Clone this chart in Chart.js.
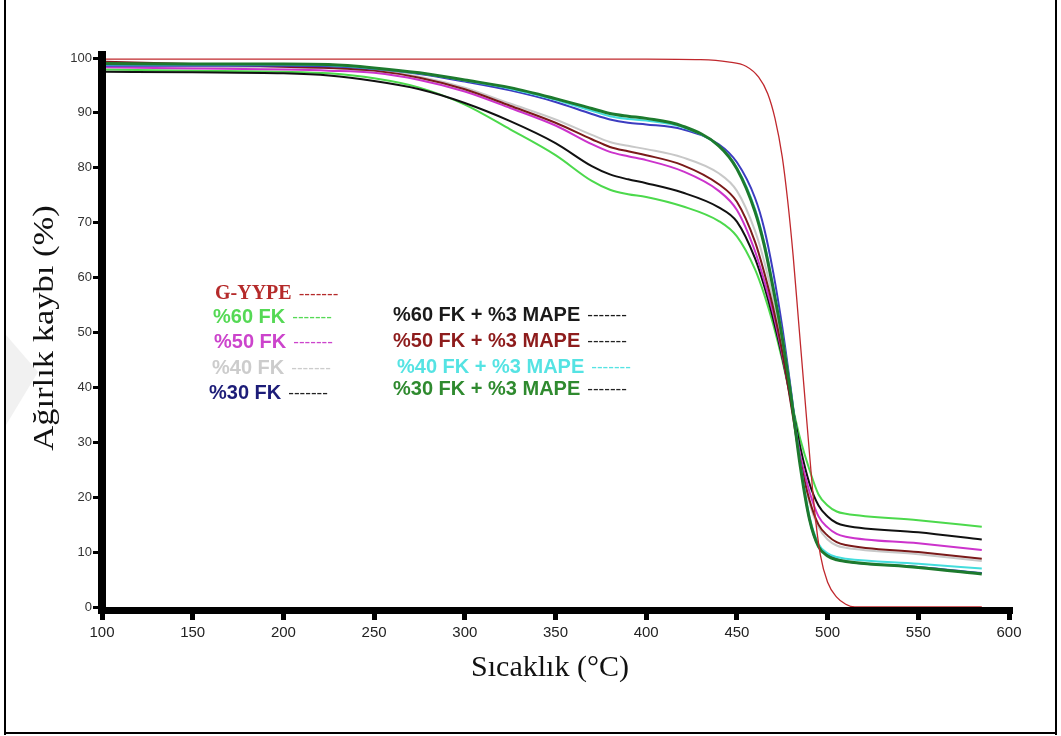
<!DOCTYPE html>
<html><head><meta charset="utf-8">
<script src="https://cdn.jsdelivr.net/npm/chart.js@4.4.1/dist/chart.umd.min.js"></script>
<style>html,body{margin:0;padding:0;background:#fff;overflow:hidden}canvas{display:block}</style>
</head><body>
<canvas id="c" width="1061" height="736"></canvas>
<script>
// ---- data ----
const xTickValues = [100,150,200,250,300,350,400,450,500,550,600];
const yTickValues = [0,10,20,30,40,50,60,70,80,90,100];
const xTitle = 'Sıcaklık (°C)';
const yTitle = 'Ağırlık kaybı (%)';
const seriesNames = ['G-YYPE','%60 FK','%50 FK','%40 FK','%30 FK',
  '%60 FK + %3 MAPE','%50 FK + %3 MAPE','%40 FK + %3 MAPE','%30 FK + %3 MAPE'];

const tempsGYYPE = [102,200,300,400,430,445,455,462,467,471,475,478,481,484,487,490,493,496,500,505,510,515,550,585];
const gyype      = [99.8,99.8,99.8,99.8,99.7,99.3,98.5,96.5,93.5,89,82,74,64,52,40,28,17,9.5,4.5,1.8,0.5,0,0,0];

const temps = [102,150,200,225,250,275,300,325,350,370,380,390,400,420,440,450,460,465,470,475,480,485,490,495,500,505,510,550,585];
const fk60   = [97.9,97.7,97.5,97.2,96.3,94.6,91.5,87.0,82.3,77.6,76.0,75.2,74.7,73.0,70.3,67.5,61.5,57.0,51.5,45.0,37.5,30.5,25.0,20.5,18.5,17.4,17.0,15.8,14.6];
const fk50   = [98.3,98.1,97.9,97.7,97.3,96.0,93.9,90.9,87.7,84.3,82.9,82.1,81.4,79.4,75.8,72.3,64.8,59.5,53.5,46.0,37.0,27.5,21.0,16.5,14.5,13.3,12.8,11.6,10.4];
const fk40   = [98.5,98.4,98.3,98.2,97.8,96.6,94.6,91.7,88.8,86.0,84.7,84.0,83.4,81.9,79.0,75.8,68.5,63.0,56.0,47.5,37.0,26.5,19.0,14.5,12.3,11.2,10.8,9.6,8.4];
const fk30   = [98.6,98.6,98.6,98.5,98.0,97.1,95.7,94.1,92.0,89.8,88.8,88.2,87.9,87.0,84.3,81.0,74.5,69.0,61.0,51.0,39.0,26.0,16.0,11.0,9.5,8.7,8.3,7.3,6.2];
const fk60m  = [97.5,97.4,97.2,96.8,95.8,94.3,91.8,88.5,84.5,80.3,78.8,77.9,77.2,75.5,72.8,70.2,63.5,58.5,52.5,45.5,37.5,29.0,22.5,18.5,16.5,15.3,14.8,13.6,12.3];
const fk50m  = [99.3,98.9,98.4,98.2,97.7,96.4,94.3,91.3,88.2,85.2,83.8,83.0,82.3,80.5,77.0,73.8,66.5,61.0,54.5,46.5,36.5,26.5,19.5,15.0,13.0,11.8,11.3,10.0,8.8];
const fk40m  = [98.8,98.8,98.8,98.7,98.1,97.2,95.9,94.4,92.4,90.4,89.4,88.9,88.6,87.4,84.0,80.0,72.5,66.5,58.5,49.5,38.5,26.0,16.5,11.5,9.8,9.1,8.8,7.9,7.0];
const fk30m  = [99.0,98.9,98.9,98.8,98.2,97.3,96.0,94.6,92.6,90.8,89.9,89.4,89.0,87.6,84.0,79.8,72.0,66.0,58.0,49.0,38.0,25.5,16.0,11.0,9.3,8.6,8.3,7.2,6.0];

// ---- build ----
const pts = (xs, ys) => xs.map((x, i) => ({x, y: ys[i]}));
const seriesData = [pts(tempsGYYPE, gyype), pts(temps, fk60), pts(temps, fk50), pts(temps, fk40), pts(temps, fk30),
  pts(temps, fk60m), pts(temps, fk50m), pts(temps, fk40m), pts(temps, fk30m)];
const lineColors = ['#c0282d','#4cd94c','#cc33cc','#c8c8c8','#3c3cc0','#111111','#7a1a1a','#44dddd','#1d7a2d'];
const lineWidths = [1.3,2,2,2,2,2,2,2,3];
const drawOrder  = [1,8,6,9,4,7,5,3,2];

const legendLayout = [
  {x:215,y:294,font:'bold 20px "Liberation Serif", "Times New Roman", serif',c:'#b52a2a',d:'#b52a2a'},
  {x:213,y:317,c:'#55d955',d:'#55d955'},
  {x:214,y:342,c:'#cc44cc',d:'#cc44cc'},
  {x:212,y:368,c:'#cccccc',d:'#cccccc'},
  {x:209,y:393,c:'#1c1c78',d:'#222222'},
  {x:393,y:315,c:'#1a1a1a',d:'#1a1a1a'},
  {x:393,y:341,c:'#8e1c1c',d:'#222222'},
  {x:397,y:367,c:'#55e3e3',d:'#55e3e3'},
  {x:393,y:389,c:'#2f8a2f',d:'#222222'}
];

const framePlugin = {
  id:'frame',
  beforeDraw(chart){
    const ctx = chart.ctx;
    ctx.save();
    ctx.fillStyle = '#fff';
    ctx.fillRect(0,0,chart.width,chart.height);
    ctx.fillStyle = '#f1f1f1';
    ctx.beginPath(); ctx.moveTo(6,335); ctx.lineTo(38,372); ctx.lineTo(6,425); ctx.closePath(); ctx.fill();
    ctx.fillStyle = '#000';
    ctx.fillRect(4,0,2,735);
    ctx.fillRect(1055,0,2,735);
    ctx.fillRect(4,732,1053,2);
    ctx.restore();
  },
  afterDraw(chart){
    const ctx = chart.ctx;
    const a = chart.chartArea;
    ctx.save();
    ctx.fillStyle = '#000';
    ctx.fillRect(a.left-4, a.top-7, 8, a.bottom - a.top + 14);
    ctx.fillRect(a.left-4, a.bottom, a.right - a.left + 8, 7);
    // axis titles
    ctx.fillStyle = '#111';
    ctx.font = '30px "Liberation Serif", "Times New Roman", serif';
    ctx.textAlign = 'center';
    ctx.textBaseline = 'middle';
    ctx.fillText(xTitle, 550, 668);
    ctx.save();
    ctx.translate(45, 328);
    ctx.rotate(-Math.PI/2);
    ctx.scale(1.15, 1);
    ctx.fillText(yTitle, 0, 0);
    ctx.restore();
    ctx.restore();
  }
};

const legendPlugin = {
  id:'customLegend',
  afterDatasetsDraw(chart){
    const ctx = chart.ctx;
    ctx.save();
    ctx.textBaseline = 'middle';
    ctx.textAlign = 'left';
    seriesNames.forEach((name, i) => {
      const L = legendLayout[i];
      ctx.font = L.font || 'bold 20px "Liberation Sans", Arial, sans-serif';
      ctx.fillStyle = L.c;
      ctx.fillText(name, L.x, L.y);
      const w = ctx.measureText(name).width;
      ctx.font = '17px "Liberation Sans", Arial, sans-serif';
      ctx.fillStyle = L.d;
      ctx.fillText('-------', L.x + w + 7, L.y);
    });
    ctx.restore();
  }
};

new Chart(document.getElementById('c'), {
  type:'line',
  data:{
    datasets: seriesNames.map((name, i) => ({
      label:name, data:seriesData[i], borderColor:lineColors[i], backgroundColor:lineColors[i],
      borderWidth:lineWidths[i], pointRadius:0, fill:false, cubicInterpolationMode:'monotone', order:drawOrder[i]
    }))
  },
  options:{
    responsive:false, animation:false, devicePixelRatio:1,
    layout:{padding:{left:0, top:58, right:52, bottom:0}},
    plugins:{legend:{display:false}, tooltip:{enabled:false}},
    scales:{
      x:{
        type:'linear', min:100, max:600,
        afterBuildTicks:s => { s.ticks = xTickValues.map(v => ({value:v})); },
        afterFit:s => { s.height = 129; },
        grid:{display:true, drawOnChartArea:false, drawTicks:true, tickLength:13, tickWidth:5, tickColor:'#000'},
        border:{display:false},
        ticks:{font:{family:'"Liberation Sans Narrow", "Liberation Sans", Arial', size:15}, color:'#222', padding:4, maxRotation:0, autoSkip:false}
      },
      y:{
        type:'linear', min:0, max:100,
        afterBuildTicks:s => { s.ticks = yTickValues.map(v => ({value:v})); },
        afterFit:s => { s.width = 102; },
        grid:{display:true, drawOnChartArea:false, drawTicks:true, tickLength:9, tickWidth:3, tickColor:'#000'},
        border:{display:false},
        ticks:{font:{family:'"Liberation Sans", Arial', size:13}, color:'#333', padding:1, autoSkip:false}
      }
    }
  },
  plugins:[framePlugin, legendPlugin]
});
</script>
</body></html>
